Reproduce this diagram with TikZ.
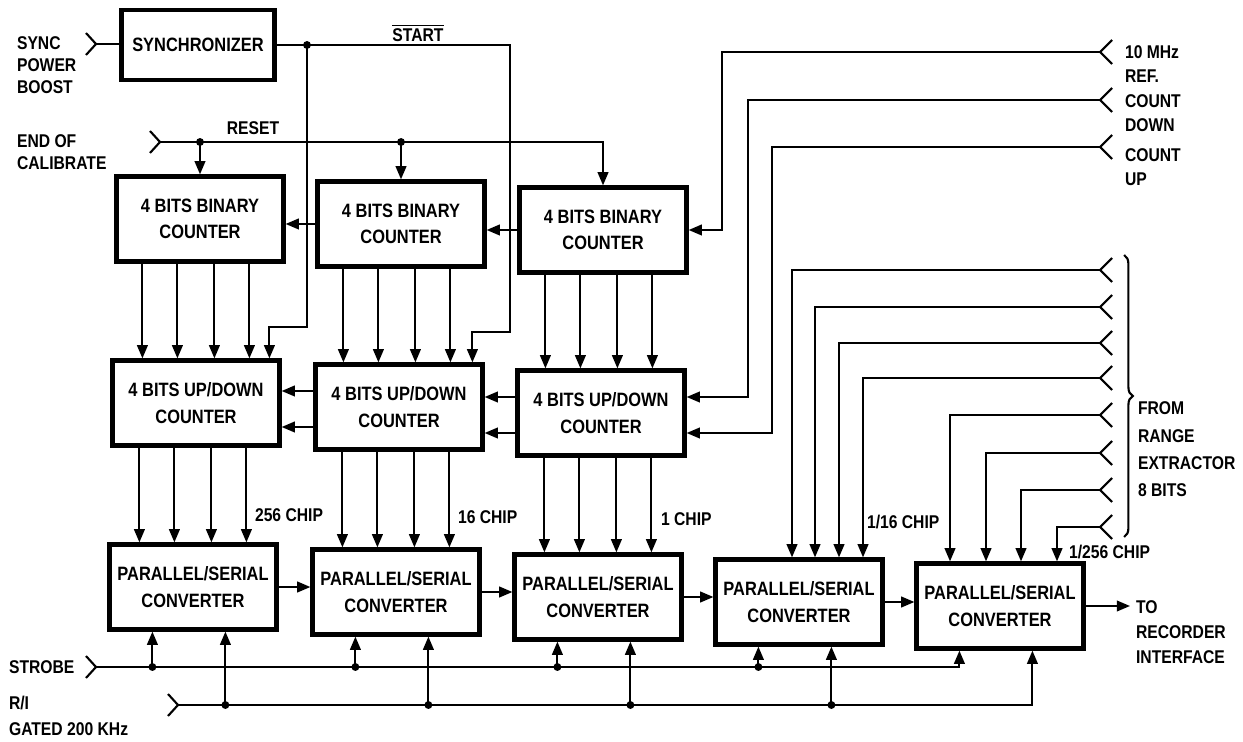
\documentclass[tikz,border=0pt]{standalone}
\usepackage{fontspec}
\setmainfont{Liberation Sans}[FakeStretch=0.85]
\usetikzlibrary{arrows.meta,calc,decorations.pathreplacing}

\begin{document}
\begin{tikzpicture}[x=0.02cm,y=-0.02cm,line width=1.2pt,>={Triangle[length=7.5pt,width=6pt]},
		blk/.style={draw,line width=2.4pt,minimum width=3.34cm,minimum height=1.7cm,inner sep=0pt,align=center,font=\bfseries\fontsize{11}{15}\selectfont},
		lbl/.style={inner sep=0pt,align=left,font=\bfseries\fontsize{10.5}{13.5}\selectfont},
		jn/.style={circle,fill,inner sep=0pt,minimum size=4.5pt}]
		\useasboundingbox (0,0) rectangle (1243,742);
		% blocks
		\node[blk,minimum width=3.06cm,minimum height=1.4cm] (sync) at (198,45) {SYNCHRONIZER};
		\foreach \n/\x/\y in {1/200/219,2/401/224,3/603/230}{\node[blk] (bin\n) at (\x,\y) {4 BITS BINARY\\COUNTER};}
		\foreach \n/\x/\y in {1/196/403,2/399/407,3/601/413}{\node[blk] (ud\n) at (\x,\y) {4 BITS UP/DOWN\\COUNTER};}
		\foreach \n/\x/\y in {1/193/587,2/396/592,3/598/597,4/799/602,5/1000/606}{\node[blk] (ps\n) at (\x,\y) {PARALLEL/SERIAL\\CONVERTER};}
		% sync power boost
		\node[lbl,anchor=north west,font=\bfseries\fontsize{10.5}{12.3}\selectfont] (synclbl) at (16,36) {SYNC\\POWER\\BOOST};
		\coordinate (syncin) at (96,44);
		\draw (86,33) -- (syncin) -- (86,55);
		\draw (syncin) -- (syncin -| sync.west);
		% start
		\node[lbl] (startlbl) at (418,33) {$\overline{\mbox{START}}$};
		\node[jn] (stdot) at (307,45) {};
		\draw[->] (sync.east) -- (510,45) -- (510,332) -| ($(ud2.north west)+(159,0)$);
		\draw[->] (stdot.center) -- (307,327) -| ($(ud1.north west)+(159,0)$);
		% reset
		\node[lbl,anchor=north west,font=\bfseries\fontsize{10.5}{12.5}\selectfont] (eoclbl) at (16,134) {END OF\\CALIBRATE};
		\node[lbl] (rstlbl) at (253,128) {RESET};
		\coordinate (rst) at (160,142);
		\draw (150,131) -- (rst) -- (150,153);
		\draw[->] (rst) -| (bin3.north);
		\foreach \n in {1,2}{\node[jn] (rd\n) at (bin\n.north |- rst) {}; \draw[->] (rd\n.center) -- (bin\n.north);}
		% carries
		\foreach \a/\b in {2/1,3/2}{\draw[->] (bin\a.west) -- (bin\a.west -| bin\b.east);}
		\foreach \a/\b in {2/1,3/2}{
			\coordinate (cu) at ($(ud\a.west)+(0,-16)$);
			\coordinate (cd) at ($(ud\a.west)+(0,20)$);
			\draw[->] (cu) -- (cu -| ud\b.east);
			\draw[->] (cd) -- (cd -| ud\b.east);
		}
		% bit lines
		\foreach \n in {1,2,3}{
			\foreach \d in {28,63,100,135}{
				\coordinate (bt) at ($(bin\n.south west)+(\d,0)$);
				\draw[->] (bt) -- (bt |- ud\n.north);
				\coordinate (ut) at ($(ud\n.south west)+(\d+1,0)$);
				\draw[->] (ut) -- (ut |- ps\n.north);
			}
		}
		\node[lbl,anchor=west] (c256) at (254,515) {256 CHIP};
		\node[lbl,anchor=west] (c16) at (457,517) {16 CHIP};
		\node[lbl,anchor=west] (c1) at (660,519) {1 CHIP};
		\node[lbl,anchor=west] (c116) at (866,522) {1/16 CHIP};
		\node[lbl,anchor=west] (c1256) at (1068,552) {1/256 CHIP};
		% reference and count inputs
		\foreach \n/\y in {ref/52,dn/100,up/147}{\coordinate (\n) at (1100,\y); \draw (1112,\y-12) -- (\n) -- (1112,\y+12);}
		\draw[->] (ref) -- (722,52) |- (bin3.east);
		\draw[->] (dn) -- (748,100) |- ($(ud3.east)+(0,-16)$);
		\draw[->] (up) -- (772,147) |- ($(ud3.east)+(0,20)$);
		\node[lbl,anchor=north west] (reflbl) at (1124,45) {10 MHz\\REF.};
		\node[lbl,anchor=north west] (dnlbl) at (1124,94) {COUNT\\DOWN};
		\node[lbl,anchor=north west] (uplbl) at (1124,148) {COUNT\\UP};
		% range extractor
		\foreach \n/\y/\x/\b in {1/270/792/4,2/307/815/4,3/343/839/4,4/378/863/4,5/415/950/5,6/453/986/5,7/490/1021/5,8/527/1057/5}{
			\coordinate (rx\n) at (1100,\y);
			\draw (1112,\y-12) -- (rx\n) -- (1112,\y+12);
			\coordinate (rt) at (\x,0);
			\draw[->] (rx\n) -| (rt |- ps\b.north);
		}
		\draw[decorate,decoration={brace,amplitude=5pt}] (1124,255) -- (1124,537);
		\node[lbl,anchor=north west,font=\bfseries\fontsize{10.5}{15.5}\selectfont] (rnglbl) at (1137,401) {FROM\\RANGE\\EXTRACTOR\\8 BITS};
		% serial chain
		\foreach \a/\b in {1/2,2/3,3/4,4/5}{\draw[->] (ps\a.east) -- (ps\a.east -| ps\b.west);}
		\coordinate (rec) at (1130,606);
		\draw[->] (ps5.east) -- (rec);
		\node[lbl,anchor=north west,font=\bfseries\fontsize{10.5}{14.2}\selectfont] (reclbl) at (1135,600) {TO\\RECORDER\\INTERFACE};
		% strobe and clock
		\node[lbl,anchor=west] (strblbl) at (8,667) {STROBE};
		\coordinate (strb) at (96,667);
		\draw (86,656) -- (strb) -- (86,678);
		\node[lbl,anchor=north west,font=\bfseries\fontsize{10.5}{15}\selectfont] (rilbl) at (8,695) {R/I\\GATED 200 KHz};
		\coordinate (ri) at (178,705);
		\draw (168,694) -- (ri) -- (168,716);
		\foreach \n in {1,...,5}{
			\coordinate (sb\n) at ($(ps\n.south west)+(45,0)$);
			\coordinate (rb\n) at ($(ps\n.south west)+(118,0)$);
		}
		\draw[->] (strb) -| (sb5);
		\draw[->] (ri) -| (rb5);
		\foreach \n in {1,...,4}{
			\node[jn] (sd\n) at (sb\n |- strb) {};
			\draw[->] (sd\n.center) -- (sb\n);
			\node[jn] (id\n) at (rb\n |- ri) {};
			\draw[->] (id\n.center) -- (rb\n);
		}
	\end{tikzpicture}
\end{document}
